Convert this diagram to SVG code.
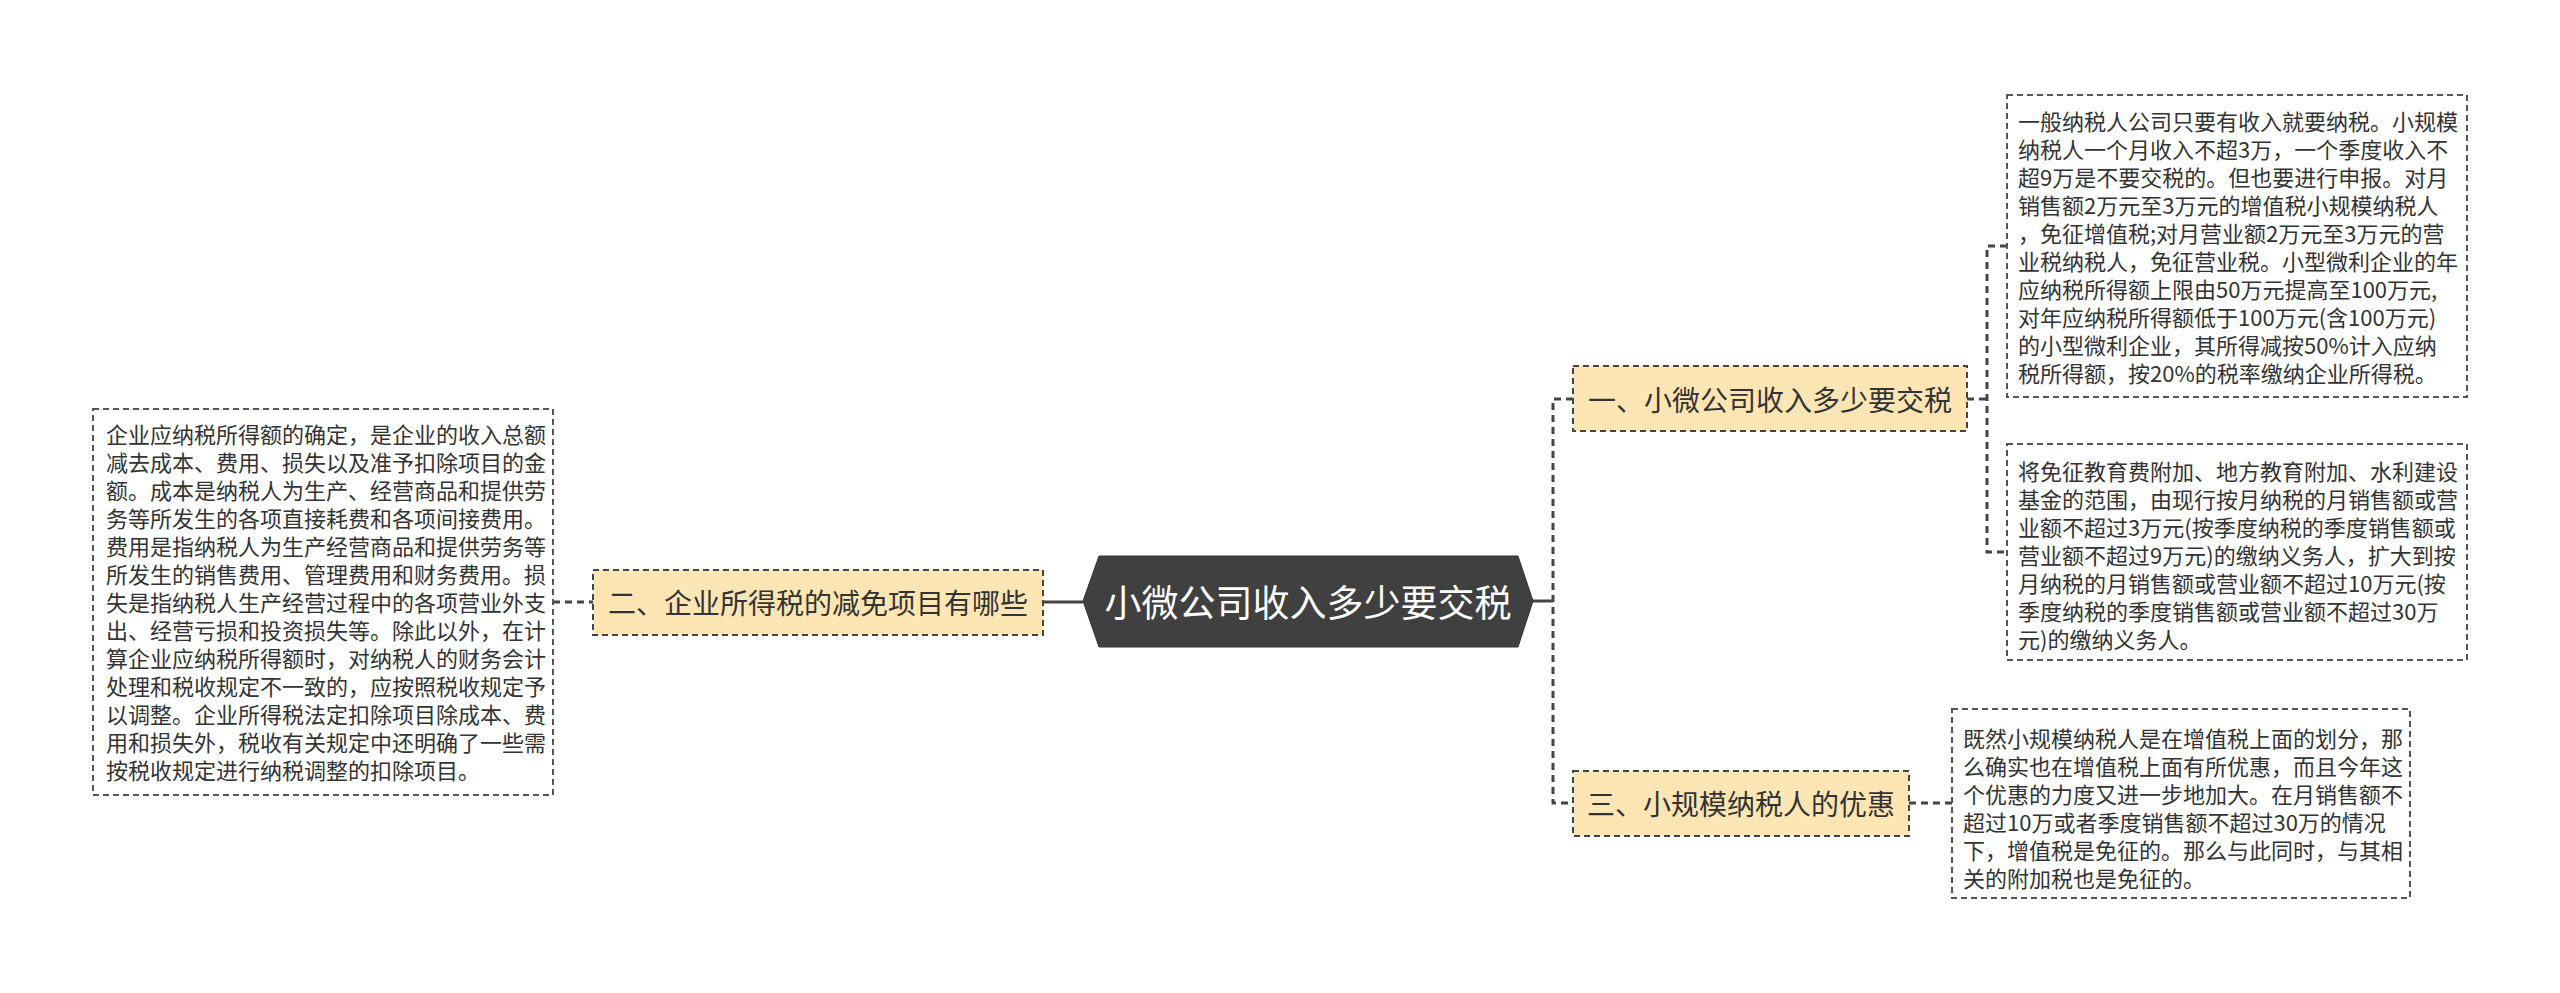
<svg xmlns="http://www.w3.org/2000/svg" width="2560" height="993" viewBox="0 0 2560 993">
<style>
text{font-family:"Noto Sans CJK SC","Noto Sans",sans-serif;dominant-baseline:central;}
.note{fill:#fff;stroke:#555;stroke-width:2;stroke-dasharray:6 4;}
.lab{fill:#fde6b3;stroke:#444;stroke-width:2;stroke-dasharray:6 4;}
.nt{font-size:22px;fill:#333;}
.lt{font-size:28px;fill:#333;text-anchor:middle;}
.dc{fill:none;stroke:#444;stroke-width:3;stroke-dasharray:7 5;}
.sc{fill:none;stroke:#444;stroke-width:3;}
</style>
<rect width="2560" height="993" fill="#fff"/>
<g id="connectors">
<line class="sc" x1="1043" y1="602" x2="1083" y2="602"/>
<line class="dc" x1="553" y1="602" x2="593" y2="602"/>
<line class="sc" x1="1533" y1="601" x2="1553" y2="601"/>
<path class="dc" d="M1573 399 H1553 V803 H1573"/>
<line class="dc" x1="1967" y1="399" x2="1987" y2="399"/>
<path class="dc" d="M2007 246 H1987 V552 H2007"/>
<line class="dc" x1="1909" y1="803" x2="1952" y2="803"/>
</g>
<g id="root">
<polygon points="1083,601 1099,556 1518,556 1533,601 1518,647 1099,647" fill="#404040" stroke="#333" stroke-width="1"/>
<text x="1308" y="601" font-size="37" fill="#fff" text-anchor="middle">小微公司收入多少要交税</text>
</g>
<g id="n2">
<rect class="lab" x="593" y="570" width="450" height="65"/>
<text class="lt" x="818" y="602">二、企业所得税的减免项目有哪些</text>
</g>
<g id="n2note">
<rect class="note" x="93" y="409" width="460" height="386"/>
<text class="nt" x="106" y="433"><tspan x="106" dy="0">企业应纳税所得额的确定，是企业的收入总额</tspan><tspan x="106" dy="28">减去成本、费用、损失以及准予扣除项目的金</tspan><tspan x="106" dy="28">额。成本是纳税人为生产、经营商品和提供劳</tspan><tspan x="106" dy="28">务等所发生的各项直接耗费和各项间接费用。</tspan><tspan x="106" dy="28">费用是指纳税人为生产经营商品和提供劳务等</tspan><tspan x="106" dy="28">所发生的销售费用、管理费用和财务费用。损</tspan><tspan x="106" dy="28">失是指纳税人生产经营过程中的各项营业外支</tspan><tspan x="106" dy="28">出、经营亏损和投资损失等。除此以外，在计</tspan><tspan x="106" dy="28">算企业应纳税所得额时，对纳税人的财务会计</tspan><tspan x="106" dy="28">处理和税收规定不一致的，应按照税收规定予</tspan><tspan x="106" dy="28">以调整。企业所得税法定扣除项目除成本、费</tspan><tspan x="106" dy="28">用和损失外，税收有关规定中还明确了一些需</tspan><tspan x="106" dy="28">按税收规定进行纳税调整的扣除项目。</tspan></text>
</g>
<g id="n1">
<rect class="lab" x="1573" y="366" width="394" height="65"/>
<text class="lt" x="1770" y="399">一、小微公司收入多少要交税</text>
</g>
<g id="n1note1">
<rect class="note" x="2007" y="95" width="460" height="302"/>
<text class="nt" x="2018" y="120"><tspan x="2018" dy="0">一般纳税人公司只要有收入就要纳税。小规模</tspan><tspan x="2018" dy="28">纳税人一个月收入不超3万，一个季度收入不</tspan><tspan x="2018" dy="28">超9万是不要交税的。但也要进行申报。对月</tspan><tspan x="2018" dy="28">销售额2万元至3万元的增值税小规模纳税人</tspan><tspan x="2018" dy="28">，免征增值税;对月营业额2万元至3万元的营</tspan><tspan x="2018" dy="28">业税纳税人，免征营业税。小型微利企业的年</tspan><tspan x="2018" dy="28">应纳税所得额上限由50万元提高至100万元,</tspan><tspan x="2018" dy="28">对年应纳税所得额低于100万元(含100万元)</tspan><tspan x="2018" dy="28">的小型微利企业，其所得减按50%计入应纳</tspan><tspan x="2018" dy="28">税所得额，按20%的税率缴纳企业所得税。</tspan></text>
</g>
<g id="n1note2">
<rect class="note" x="2007" y="444" width="460" height="216"/>
<text class="nt" x="2018" y="470"><tspan x="2018" dy="0">将免征教育费附加、地方教育附加、水利建设</tspan><tspan x="2018" dy="28">基金的范围，由现行按月纳税的月销售额或营</tspan><tspan x="2018" dy="28">业额不超过3万元(按季度纳税的季度销售额或</tspan><tspan x="2018" dy="28">营业额不超过9万元)的缴纳义务人，扩大到按</tspan><tspan x="2018" dy="28">月纳税的月销售额或营业额不超过10万元(按</tspan><tspan x="2018" dy="28">季度纳税的季度销售额或营业额不超过30万</tspan><tspan x="2018" dy="28">元)的缴纳义务人。</tspan></text>
</g>
<g id="n3">
<rect class="lab" x="1573" y="771" width="336" height="65"/>
<text class="lt" x="1741" y="803">三、小规模纳税人的优惠</text>
</g>
<g id="n3note">
<rect class="note" x="1952" y="709" width="458" height="189"/>
<text class="nt" x="1963" y="737"><tspan x="1963" dy="0">既然小规模纳税人是在增值税上面的划分，那</tspan><tspan x="1963" dy="28">么确实也在增值税上面有所优惠，而且今年这</tspan><tspan x="1963" dy="28">个优惠的力度又进一步地加大。在月销售额不</tspan><tspan x="1963" dy="28">超过10万或者季度销售额不超过30万的情况</tspan><tspan x="1963" dy="28">下，增值税是免征的。那么与此同时，与其相</tspan><tspan x="1963" dy="28">关的附加税也是免征的。</tspan></text>
</g>
</svg>
